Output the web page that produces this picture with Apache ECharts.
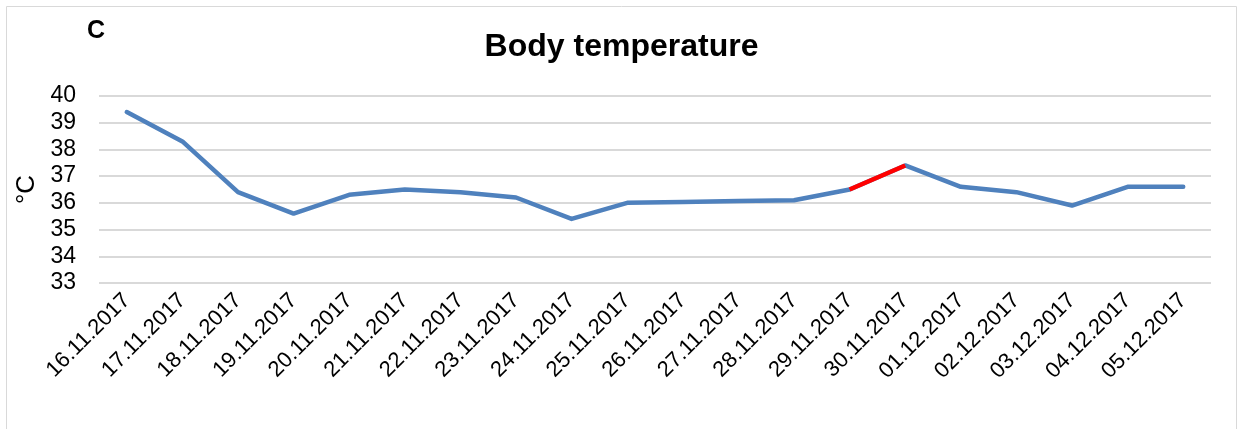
<!DOCTYPE html>
<html>
<head>
<meta charset="utf-8">
<script src="https://cdn.jsdelivr.net/npm/echarts@6/dist/echarts.min.js"></script>
<style>
  html, body { margin: 0; padding: 0; background: #fff; }
  #chart { width: 1243px; height: 429px; }
</style>
</head>
<body>
<div id="chart"></div>
<script>
// dates on the x axis
const dates = ['16.11.2017', '17.11.2017', '18.11.2017', '19.11.2017', '20.11.2017',
  '21.11.2017', '22.11.2017', '23.11.2017', '24.11.2017', '25.11.2017',
  '26.11.2017', '27.11.2017', '28.11.2017', '29.11.2017', '30.11.2017',
  '01.12.2017', '02.12.2017', '03.12.2017', '04.12.2017', '05.12.2017'];
// body temperature, °C
const temps = [39.4, 38.3, 36.4, 35.6, 36.3, 36.5, 36.4, 36.2, 35.4, 36.0,
  36.03, 36.07, 36.1, 36.5, 37.4, 36.6, 36.4, 35.9, 36.6, 36.6];
// the segment drawn in red (29.11 -> 30.11)
const redFrom = 13;
const redTo = 14;

const font = 'Liberation Sans, Arial, sans-serif';
const chart = echarts.init(document.getElementById('chart'));

const redData = temps.map((v, i) => (i >= redFrom && i <= redTo ? v : '-'));

const option = {
  animation: false,
  textStyle: { fontFamily: font },
  graphic: [
    {
      type: 'rect',
      shape: { x: 6.5, y: 6.5, width: 1230, height: 440 },
      style: { fill: 'none', stroke: '#d9d9d9', lineWidth: 1 },
      silent: true
    },
    {
      type: 'text',
      left: 87,
      top: 19,
      style: { text: 'C', font: 'bold 25px ' + font, fill: '#000' }
    }
  ],
  title: {
    text: 'Body temperature',
    left: 'center',
    top: 26,
    textStyle: { fontFamily: font, fontSize: 32, fontWeight: 'bold', color: '#000' }
  },
  grid: { left: 99, right: 32, top: 96, bottom: 146, containLabel: false, outerBoundsMode: 'none' },
  xAxis: {
    type: 'category',
    data: dates,
    boundaryGap: true,
    axisLine: { show: false },
    axisTick: { show: false },
    axisLabel: {
      rotate: 45,
      interval: 0,
      margin: 14,
      fontFamily: font,
      fontSize: 22,
      color: '#000'
    }
  },
  yAxis: {
    type: 'value',
    min: 33,
    max: 40,
    interval: 1,
    name: '°C',
    nameLocation: 'middle',
    nameRotate: 90,
    nameGap: 59,
    nameTextStyle: { fontFamily: font, fontSize: 26, color: '#000' },
    axisLine: { show: false },
    axisTick: { show: false },
    axisLabel: { fontFamily: font, fontSize: 23, color: '#000', margin: 23 },
    splitLine: { lineStyle: { color: '#d9d9d9', width: 2 } }
  },
  series: [
    {
      type: 'line',
      data: temps,
      symbol: 'none',
      lineStyle: { color: '#4f81bd', width: 4.5, cap: 'round', join: 'round' },
      z: 2
    },
    {
      type: 'line',
      data: redData,
      symbol: 'none',
      lineStyle: { color: '#ff0000', width: 4.5 },
      z: 3
    }
  ]
};

chart.setOption(option);
</script>
</body>
</html>
